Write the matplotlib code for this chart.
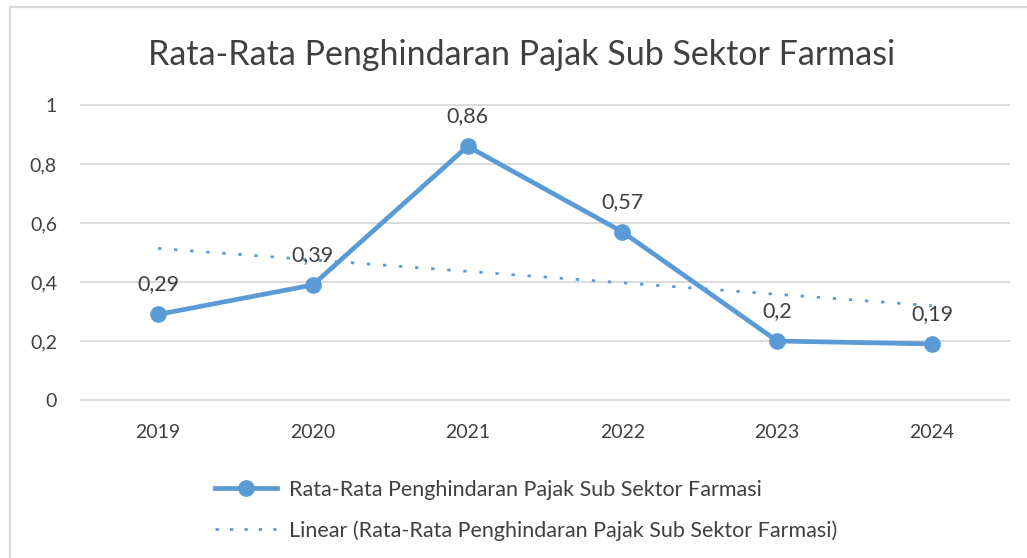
import numpy as np
import matplotlib
matplotlib.use("Agg")
import matplotlib.pyplot as plt
from matplotlib.lines import Line2D

years = ["2019", "2020", "2021", "2022", "2023", "2024"]
values = [0.29, 0.39, 0.86, 0.57, 0.20, 0.19]
labels = ["0,29", "0,39", "0,86", "0,57", "0,2", "0,19"]
yticks = [0, 0.2, 0.4, 0.6, 0.8, 1.0]
yticklabels = ["0", "0,2", "0,4", "0,6", "0,8", "1"]
title = "Rata-Rata Penghindaran Pajak Sub Sektor Farmasi"
series_name = "Rata-Rata Penghindaran Pajak Sub Sektor Farmasi"
trend_name = "Linear (Rata-Rata Penghindaran Pajak Sub Sektor Farmasi)"

plt.rcParams['font.family'] = ['Lato', 'DejaVu Sans']
BLUE = "#5B9BD5"
TXT = "#404040"
GRID = "#D9D9D9"

W, H = 1027, 558
fig = plt.figure(figsize=(W / 100, H / 100), dpi=100)

# outer chart frame (left + top visible)
fig.add_artist(Line2D([10 / W, 10 / W], [0, 1 - 7 / H], transform=fig.transFigure,
                      color=GRID, lw=1.6))
fig.add_artist(Line2D([10 / W, 1.0], [1 - 7 / H, 1 - 7 / H], transform=fig.transFigure,
                      color=GRID, lw=1.6))

left, right = 80.6 / W, 1009.4 / W
bottom, top = (H - 400) / H, (H - 105) / H
ax = fig.add_axes([left, bottom, right - left, top - bottom])

x = np.arange(len(years))
ax.set_xlim(-0.5, len(years) - 0.5)
ax.set_ylim(0, 1)

for s in ax.spines.values():
    s.set_visible(False)
ax.set_yticks(yticks)
ax.set_yticklabels(yticklabels)
ax.set_xticks(x)
ax.set_xticklabels(years)
ax.tick_params(axis='both', length=0, labelsize=14, colors=TXT)
ax.tick_params(axis='y', pad=17)
ax.tick_params(axis='x', pad=17)
for yv in yticks:
    ax.axhline(yv, color=GRID, lw=1.3, zorder=0, clip_on=False)

# trendline (linear fit of series)
coef = np.polyfit(x + 1, values, 1)
trend = np.polyval(coef, x + 1)
ax.plot(x, trend, color=BLUE, lw=2.0, linestyle=(0, (1.2, 4.6)),
        dash_capstyle='butt', zorder=2)

ax.plot(x, values, color=BLUE, lw=3.4, marker='o', markersize=11,
        zorder=3, solid_capstyle='round')

for xi, v, lab in zip(x, values, labels):
    ax.annotate(lab, (xi, v), xytext=(0, 21.5), textcoords='offset points',
                ha='center', va='center', fontsize=15.5, color=TXT, zorder=4)

fig.text((150 + 893) / 2 / W, 1 - 55 / H, title, ha='center', va='center',
         fontsize=24.5, color=TXT)

# legend
h1 = Line2D([], [], color=BLUE, lw=3.4, marker='o', markersize=11)
h2 = Line2D([], [], color=BLUE, lw=2.0, linestyle=(0, (1.2, 4.0)), dash_capstyle='butt')
leg = fig.legend([h1, h2], [series_name, trend_name], loc='upper left',
                 bbox_to_anchor=(204 / W, 1 - 469 / H), frameon=False,
                 fontsize=15.5, labelcolor=TXT, handlelength=2.9,
                 handletextpad=0.55, labelspacing=0.95, borderpad=0)

fig.savefig("out.png", dpi=100, facecolor='white')
